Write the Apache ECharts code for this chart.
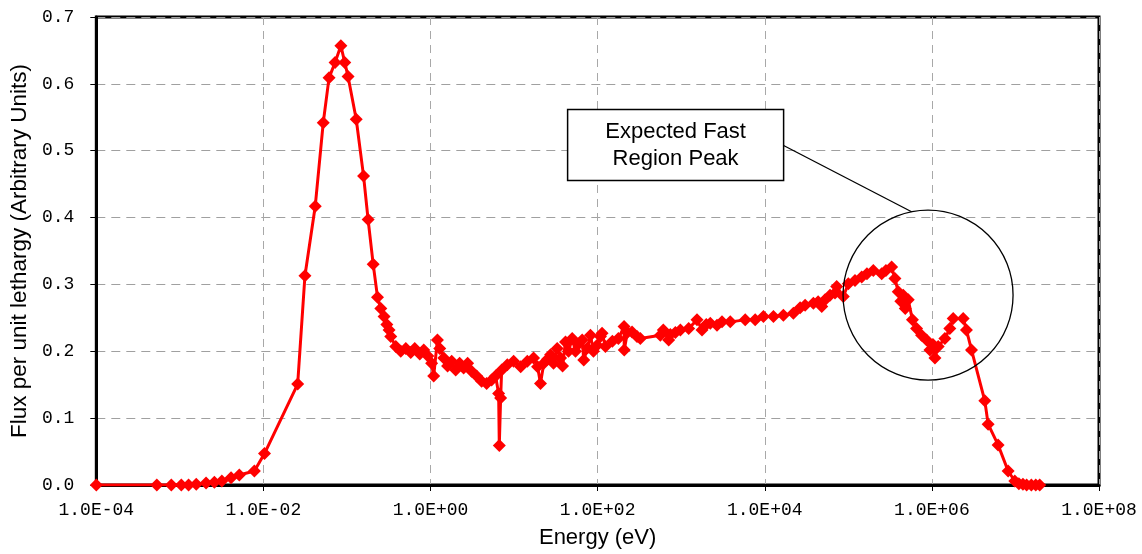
<!DOCTYPE html>
<html>
<head>
<meta charset="utf-8">
<title>Neutron flux spectrum</title>
<script src="https://cdn.jsdelivr.net/npm/echarts@6/dist/echarts.min.js"></script>
<style>
  html, body { margin: 0; padding: 0; background: #fff; }
  #chart { width: 1142px; height: 554px; }
</style>
</head>
<body>
<div id="chart"></div>
<script>
// Neutron energy (eV) for each tally bin
const energy = [
  1.0e-4, 5.3e-4, 7.9e-4, 1.04e-3, 1.27e-3, 1.57e-3, 2.06e-3, 2.59e-3, 3.18e-3, 4.1e-3,
  5.15e-3, 7.8e-3, 1.03e-2, 2.57e-2, 3.14e-2, 4.17e-2, 5.2e-2, 6.1e-2, 7.2e-2, 8.45e-2,
  9.4e-2, 0.103, 0.129, 0.158, 0.179, 0.206, 0.232, 0.254, 0.278, 0.30,
  0.319, 0.334, 0.384, 0.44, 0.506, 0.58, 0.647, 0.743, 0.83, 0.93,
  1.03, 1.09, 1.21, 1.29, 1.44, 1.6, 1.79, 2.0, 2.23, 2.49,
  2.78, 3.1, 3.56, 4.09, 4.69, 5.38, 6.0, 6.53, 6.65, 6.9,
  7.1, 8.3, 9.87, 12.0, 14.4, 17.1, 19.1, 20.7, 22.7, 25.1,
  27.3, 29.6, 32.8, 36.0, 38.0, 41.2, 44.8, 49.6, 54.3, 59.0,
  65.3, 68.2, 75.5, 82.0, 89.1, 98.6, 108, 113, 124, 150,
  177, 207, 208, 227, 258, 296, 324, 562, 611, 708,
  741, 851, 977, 1228, 1546, 1774, 1995, 2228, 2680, 3076,
  3864, 5835, 7682, 9640, 12700, 16700, 22000, 26500, 30400, 38200,
  43500, 48100, 52700, 60400, 69300, 72600, 87100, 100000, 120200, 144500,
  167000, 199000, 250600, 282000, 329600, 361000, 395600, 425000, 454000, 480000,
  521000, 585000, 656000, 753000, 864000, 947000, 1.03e6, 1.087e6, 1.19e6, 1.43e6,
  1.64e6, 1.80e6, 2.37e6, 2.59e6, 2.98e6, 4.30e6, 4.71e6, 6.2e6, 8.17e6, 9.82e6,
  1.1e7, 1.23e7, 1.36e7, 1.55e7, 1.75e7, 1.95e7
];

// Flux per unit lethargy (arbitrary units) for each bin
const flux = [
  0.0, 0.0, 0.0, 0.0, 0.0, 0.001, 0.003, 0.004, 0.006, 0.011,
  0.015, 0.021, 0.047, 0.151, 0.313, 0.417, 0.542, 0.609, 0.632, 0.657,
  0.632, 0.611, 0.547, 0.462, 0.397, 0.330, 0.281, 0.264, 0.252, 0.240,
  0.232, 0.222, 0.207, 0.200, 0.204, 0.198, 0.204, 0.196, 0.202, 0.193,
  0.182, 0.163, 0.217, 0.204, 0.190, 0.178, 0.185, 0.172, 0.182, 0.175,
  0.182, 0.170, 0.163, 0.155, 0.152, 0.157, 0.163, 0.137, 0.059, 0.130,
  0.172, 0.180, 0.185, 0.177, 0.185, 0.190, 0.177, 0.152, 0.182, 0.188,
  0.195, 0.182, 0.204, 0.190, 0.178, 0.214, 0.200, 0.219, 0.200, 0.211,
  0.217, 0.187, 0.205, 0.224, 0.200, 0.209, 0.222, 0.227, 0.207, 0.215,
  0.219, 0.237, 0.202, 0.228, 0.229, 0.222, 0.219, 0.224, 0.232, 0.217,
  0.225, 0.228, 0.232, 0.234, 0.247, 0.232, 0.240, 0.242, 0.239, 0.244,
  0.244, 0.247, 0.247, 0.252, 0.252, 0.254, 0.257, 0.265, 0.269, 0.272,
  0.274, 0.267, 0.277, 0.284, 0.287, 0.297, 0.282, 0.301, 0.306, 0.311,
  0.316, 0.321, 0.316, 0.321, 0.326, 0.309, 0.289, 0.275, 0.284, 0.264,
  0.277, 0.247, 0.234, 0.224, 0.217, 0.202, 0.210, 0.190, 0.207, 0.219,
  0.234, 0.249, 0.249, 0.232, 0.202, 0.126, 0.091, 0.060, 0.021, 0.006,
  0.002, 0.001, 0.0, 0.0, 0.0, 0.0
];

// Axis tick values
const yTicks = [0.0, 0.1, 0.2, 0.3, 0.4, 0.5, 0.6, 0.7];
const xTickExponents = [-4, -2, 0, 2, 4, 6, 8];

// Callout text and the spot it circles (energy eV, flux)
const calloutLines = ['Expected Fast', 'Region Peak'];
const calloutTarget = [9.0e5, 0.284];
const calloutBoxAnchor = [857, 0.5085];

const points = energy.map((e, i) => [e, flux[i]]);

function sciLabel(v) {
  const exp = Math.round(Math.log10(v));
  const sign = exp < 0 ? '-' : '+';
  const mag = String(Math.abs(exp)).padStart(2, '0');
  return '1.0E' + sign + mag;
}

const monoFont = "'Liberation Mono', 'Courier New', monospace";
const sansFont = "'Liberation Sans', Arial, sans-serif";
const gridDash = { color: '#a8a8a8', width: 1, type: [8, 6] };

const chart = echarts.init(document.getElementById('chart'), null, { renderer: 'canvas' });

chart.setOption({
  animation: false,
  backgroundColor: '#fff',
  grid: {
    left: 95, right: 43, top: 17, bottom: 67,
    show: true, borderColor: '#000', borderWidth: 3, backgroundColor: 'transparent'
  },
  xAxis: {
    type: 'log',
    logBase: 10,
    min: Math.pow(10, xTickExponents[0]),
    max: Math.pow(10, xTickExponents[xTickExponents.length - 1]),
    interval: 2,
    name: 'Energy (eV)',
    nameLocation: 'middle',
    nameGap: 42,
    nameTextStyle: { fontFamily: sansFont, fontSize: 22, color: '#000' },
    axisLine: { show: true, lineStyle: { color: '#000', width: 3 } },
    axisTick: { show: true, length: 6, lineStyle: { color: '#000', width: 1 } },
    axisLabel: {
      formatter: sciLabel, margin: 16,
      fontFamily: monoFont, fontSize: 18, color: '#000'
    },
    splitLine: { show: true, lineStyle: gridDash },
    minorTick: { show: false }
  },
  yAxis: {
    type: 'value',
    min: yTicks[0],
    max: yTicks[yTicks.length - 1],
    interval: 0.1,
    name: 'Flux per unit lethargy (Arbitrary Units)',
    nameLocation: 'middle',
    nameGap: 63,
    nameTextStyle: { fontFamily: sansFont, fontSize: 22.5, color: '#000' },
    axisLine: { show: true, lineStyle: { color: '#000', width: 3 } },
    axisTick: { show: true, length: 6, lineStyle: { color: '#000', width: 1 } },
    axisLabel: {
      formatter: v => v.toFixed(1), margin: 22,
      fontFamily: monoFont, fontSize: 18, color: '#000'
    },
    splitLine: { show: true, lineStyle: { color: '#a0a0a0', width: 1, type: [9, 6] } }
  },
  series: [{
    type: 'line',
    data: points,
    symbol: 'diamond',
    symbolSize: 13,
    showAllSymbol: true,
    lineStyle: { color: '#ff0000', width: 3 },
    itemStyle: { color: '#ff0000', borderWidth: 0 },
    z: 3
  }]
});

// Callout: circle around the fast-region peak, a leader line and a labelled box
function drawCallout() {
  const c = chart.convertToPixel({ gridIndex: 0 }, calloutTarget);
  const b = chart.convertToPixel({ gridIndex: 0 }, calloutBoxAnchor);
  const r = 85;
  const boxW = 216, boxH = 71;
  const ang = Math.atan2(-84, -16.6);
  const lineEnd = [c[0] + r * Math.cos(ang), c[1] + r * Math.sin(ang)];
  chart.setOption({
    graphic: [
      {
        type: 'line', z: 10,
        shape: { x1: b[0] + boxW / 2, y1: b[1] + 0.5, x2: lineEnd[0], y2: lineEnd[1] },
        style: { stroke: '#000', lineWidth: 1.3 }
      },
      {
        type: 'circle', z: 10,
        shape: { cx: c[0], cy: c[1], r: r },
        style: { fill: 'none', stroke: '#000', lineWidth: 1.3 }
      },
      {
        type: 'rect', z: 11,
        shape: { x: b[0] - boxW / 2, y: b[1] - boxH / 2, width: boxW, height: boxH },
        style: { fill: '#fff', stroke: '#000', lineWidth: 1.5 }
      },
      {
        type: 'text', z: 12,
        x: b[0], y: b[1],
        style: {
          text: calloutLines.join('\n'),
          fontFamily: sansFont, fontSize: 22, lineHeight: 27,
          fill: '#000', align: 'center', verticalAlign: 'middle'
        }
      }
    ]
  });
}
drawCallout();
</script>
</body>
</html>
